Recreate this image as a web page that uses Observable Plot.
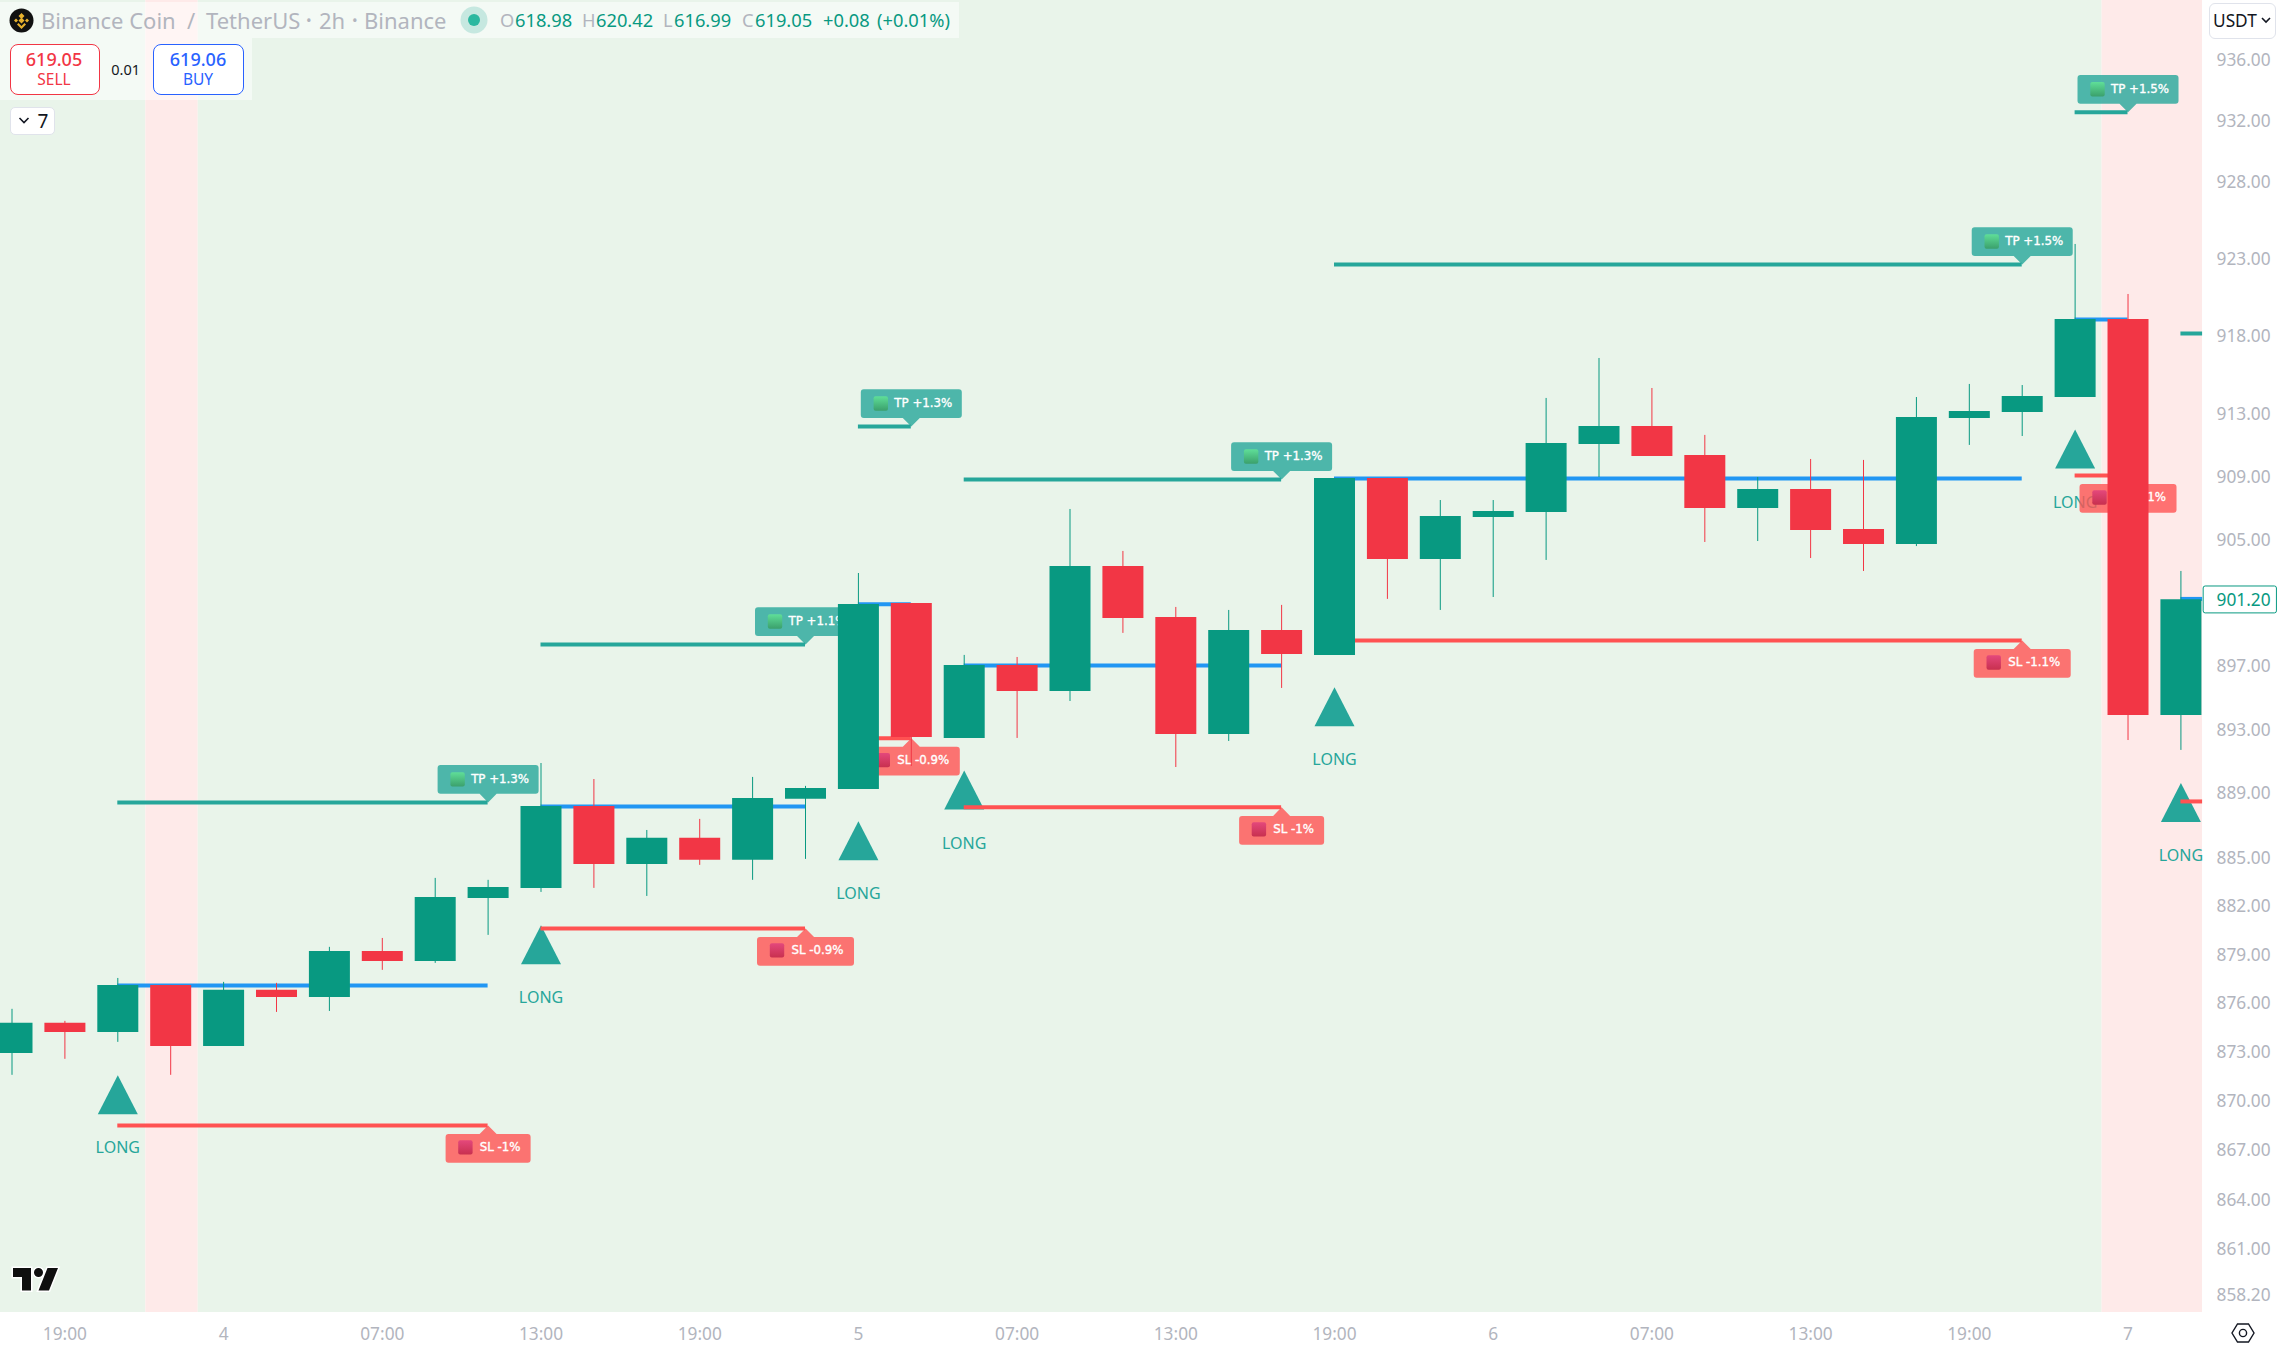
<!DOCTYPE html>
<html><head><meta charset="utf-8">
<script src="https://cdn.jsdelivr.net/npm/d3@7"></script>
<script src="https://cdn.jsdelivr.net/npm/@observablehq/plot@0.6"></script>
<style>
html,body{margin:0;padding:0;background:#fff;overflow:hidden}
#wrap{position:relative;width:2277px;height:1348px;font-family:"Noto Sans",sans-serif}
#wrap svg.plot{display:block}
.o{position:absolute;white-space:nowrap;line-height:1}
.mid{transform:translate(-50%,-50%)}
.lft{transform:translateY(-50%)}
</style></head><body><div id="wrap"></div>
<script>
const opens=[872.94,874.79,874.23,877.12,873.37,876.82,876.38,879.22,878.60,882.50,883.12,888.22,884.61,886.23,884.86,888.66,889.28,900.97,892.47,897.06,895.42,903.32,900.09,892.72,899.27,897.69,908.92,903.76,906.43,906.75,911.09,912.24,910.39,907.00,908.22,905.67,904.71,912.76,913.14,914.10,919.12,893.91];
const highs=[875.65,874.91,877.55,877.12,877.31,877.25,879.47,880.02,883.74,883.62,890.90,889.90,886.72,887.41,890.03,889.47,902.87,900.97,897.69,897.56,906.94,904.27,900.72,900.53,900.85,908.92,908.92,907.51,907.51,914.04,916.61,914.68,911.67,908.98,910.13,910.07,914.10,914.94,914.87,923.98,920.74,903.00];
const lows=[871.60,872.58,873.62,871.60,873.37,875.46,875.52,878.05,878.48,880.21,882.87,883.12,882.62,884.55,883.62,884.92,889.28,890.72,892.47,892.47,894.79,899.08,890.65,892.28,895.61,897.69,901.23,900.53,901.35,903.70,908.98,910.32,904.84,904.90,903.82,903.00,904.58,911.03,911.60,914.10,892.34,891.72];
const closes=[874.79,874.23,877.12,873.37,876.82,876.38,879.22,878.60,882.56,883.18,888.22,884.61,886.23,884.86,888.72,889.34,900.91,892.53,897.06,895.42,903.32,900.02,892.72,899.27,897.75,908.92,903.76,906.49,906.81,911.15,912.24,910.32,907.00,908.22,905.60,904.71,912.82,913.20,914.17,919.12,893.91,901.20];

const priceTicks=[936,932,928,923,918,913,909,905,897,893,889,885,882,879,876,873,870,867,864,861,858.2];
const timeTickBars=[1,4,7,10,13,16,19,22,25,28,31,34,37,40];
const timeTickLabels=["19:00","4","07:00","13:00","19:00","5","07:00","13:00","19:00","6","07:00","13:00","19:00","7"];

const tradeStart=[2,10,16,18,25,39,41];
const tradeEnd=[9,15,17,24,38,40,41.41];
const entryPrice=[877.12,888.22,900.93,897.06,908.92,919.12,901.26];
const tpPrice=[888.47,898.38,912.24,908.85,922.68,932.6,918.22];
const slPrice=[868.54,880.64,892.49,888.16,898.63,909.11,888.53];
const tpText=["TP +1.3%","TP +1.1%","TP +1.3%","TP +1.3%","TP +1.5%","TP +1.5%",null];
const slText=["SL -1%","SL -0.9%","SL -0.9%","SL -1%","SL -1.1%","SL -1.1%",null];

const longBars=[2,10,16,18,25,39,41];
const longPrice=[871.60,880.83,887.29,890.47,895.69,912.05,889.68];

const lastPrice=901.20;
const xDomain=[-0.2174,41.408];
const yDomain=[857.2,939.95];
const sessionBands=[{a:xDomain[0],b:2.53,f:"#E9F4EA"},{a:2.53,b:3.52,f:"#FEEAE9"},{a:3.52,b:39.51,f:"#E9F4EA"},{a:39.51,b:xDomain[1],f:"#FEEAE9"}];

const UP="#089981",DN="#F23645",TEAL="#26A69A",CORAL="#FF5252",BLUE="#2196F3",GRAY="#B2B5BE";
const candles=opens.map((o,i)=>({i,o,h:highs[i],l:lows[i],c:closes[i],col:closes[i]>=o?UP:DN}));
const trades=tradeStart.map((s,k)=>({s,e:tradeEnd[k],en:entryPrice[k],tp:tpPrice[k],sl:slPrice[k],tt:tpText[k],st:slText[k]}));
const longs=longBars.map((i,k)=>({i,p:longPrice[k]}));

const tri={draw(c,s){const r=Math.sqrt(s/Math.PI);c.moveTo(0,0);c.lineTo(r,1.95*r);c.lineTo(-r,1.95*r);c.closePath();}};
function tag(w,up){const hw=w/2,rd=3,p=8.5;return {draw(c){
  const s=up?1:-1,y0=s*8.6,y1=s*37.3;
  c.moveTo(0,0);c.lineTo(p,y0);c.lineTo(hw-rd,y0);
  c.quadraticCurveTo(hw,y0,hw,y0+s*rd);c.lineTo(hw,y1-s*rd);c.quadraticCurveTo(hw,y1,hw-rd,y1);
  c.lineTo(-hw+rd,y1);c.quadraticCurveTo(-hw,y1,-hw,y1-s*rd);c.lineTo(-hw,y0+s*rd);c.quadraticCurveTo(-hw,y0,-hw+rd,y0);
  c.lineTo(-p,y0);c.closePath();}};}
const sq={draw(c){const h=7.2,r=2;c.moveTo(-h+r,-h);c.lineTo(h-r,-h);c.quadraticCurveTo(h,-h,h,-h+r);c.lineTo(h,h-r);c.quadraticCurveTo(h,h,h-r,h);c.lineTo(-h+r,h);c.quadraticCurveTo(-h,h,-h,h-r);c.lineTo(-h,-h+r);c.quadraticCurveTo(-h,-h,-h+r,-h);c.closePath();}};

function tagMarks(rows,yKey,textKey,w,up,sqDx,col,grad){
  const dy=up?22:-23;
  return [
    Plot.dot(rows,{x:"e",y:yKey,symbol:tag(w,up),r:10,fill:col,fillOpacity:0.8,stroke:"none"}),
    Plot.dot(rows,{x:"e",y:yKey,symbol:sq,r:10,dx:sqDx,dy,fill:grad,stroke:"none"}),
    Plot.text(rows,{x:"e",y:yKey,text:textKey,dx:12,dy,fill:"#fff",stroke:"#fff",strokeWidth:0.35,fontSize:11.8,fontFamily:"DejaVu Sans",lineAnchor:"middle"})
  ];
}
const tpRows=trades.filter(d=>d.tt),slRows=trades.filter(d=>d.st);

const chart=Plot.plot({
  width:2277,height:1348,marginLeft:0,marginRight:75,marginTop:0,marginBottom:36,
  style:{background:"#fff",fontFamily:'"Noto Sans",sans-serif',overflow:"visible"},
  x:{type:"linear",domain:xDomain},
  y:{type:"log",domain:yDomain},
  marks:[
    Plot.rect(sessionBands,{x1:"a",x2:"b",fill:"f"}),
    Plot.text(longs,{x:"i",y:"p",text:()=>"LONG",dy:73,fill:TEAL,fontSize:16,lineAnchor:"middle"}),
    ...tagMarks(tpRows,"tp","tt",101,false,-30.5,TEAL,"url(#gTP)"),
    ...tagMarks(slRows.filter(d=>d.st.length>6),"sl","st",97,true,-28.5,CORAL,"url(#gSL)"),
    ...tagMarks(slRows.filter(d=>d.st.length<=6),"sl","st",85,true,-22.7,CORAL,"url(#gSL)"),
    Plot.dot(longs,{x:"i",y:"p",symbol:tri,r:20,fill:TEAL,stroke:"none"}),
    Plot.ruleY(trades,{y:"en",x1:"s",x2:"e",stroke:BLUE,strokeWidth:4}),
    Plot.ruleY(trades,{y:"tp",x1:"s",x2:"e",stroke:TEAL,strokeWidth:4}),
    Plot.ruleY(trades,{y:"sl",x1:"s",x2:"e",stroke:CORAL,strokeWidth:4}),
    Plot.ruleX(candles,{x:"i",y1:"l",y2:"h",stroke:"col",strokeWidth:1}),
    Plot.ruleX(candles,{x:"i",y1:"o",y2:"c",stroke:"col",strokeWidth:41}),
    Plot.rect([lastPrice],{x1:()=>41.43,x2:()=>42.815,y1:d=>d*0.99905,y2:d=>d*1.00094,fill:"#fff",stroke:UP,strokeWidth:1,rx:2}),
    Plot.text([lastPrice],{x:()=>xDomain[1],y:d=>d,text:d=>d.toFixed(2),dx:14,dy:1,textAnchor:"start",fill:UP,fontSize:17.3,lineAnchor:"middle"}),
    Plot.axisY({anchor:"right",ticks:priceTicks,tickSize:0,tickPadding:14,tickFormat:d=>d.toFixed(2),label:null,fill:GRAY,fontSize:17.3}),
    Plot.axisX({anchor:"bottom",ticks:timeTickBars,tickSize:0,tickPadding:15.5,tickFormat:d=>timeTickLabels[timeTickBars.indexOf(d)],label:null,fill:GRAY,fontSize:17.3})
  ]
});
d3.select(chart).append("defs").html(`
<linearGradient id="gTP" x1="0" y1="0" x2="0" y2="1"><stop offset="0" stop-color="#5FDE98"/><stop offset="1" stop-color="#3BA06C"/></linearGradient>
<linearGradient id="gSL" x1="0" y1="0" x2="0" y2="1"><stop offset="0" stop-color="#E4487C"/><stop offset="1" stop-color="#C8304F"/></linearGradient>`);
const wrap=document.getElementById("wrap");
wrap.appendChild(chart);

function box(x,y,w,h,css){const d=document.createElement("div");d.className="o";d.style.cssText=`left:${x}px;top:${y}px;width:${w}px;height:${h}px;box-sizing:border-box;${css||""}`;wrap.appendChild(d);return d;}
function label(t,x,y,size,col,cls,css){const d=document.createElement("div");d.className="o "+(cls||"mid");d.textContent=t;d.style.cssText=`left:${x}px;top:${y}px;font-size:${size}px;color:${col};${css||""}`;wrap.appendChild(d);return d;}
function raw(html){const d=document.createElement("div");d.innerHTML=html;wrap.appendChild(d.firstElementChild);}

box(0,2,959,36,"background:rgba(255,255,255,.5)");
box(0,38,252,62,"background:rgba(255,255,255,.5)");
raw(`<svg class="o" style="left:9px;top:8px" width="25" height="25" viewBox="0 0 25 25"><circle cx="12.5" cy="12.5" r="12" fill="#111"/><path d="M12.5 5l3 3-3 3-3-3zM7 10.5l2 2-2 2-2-2zM18 10.5l2 2-2 2-2-2zM12.5 9.5l3 3-3 3-3-3zM9.5 15l3 3 3-3 1.5 1.5-4.5 4.5L8 16.5z" fill="#E8B22E"/></svg>`);
[["Binance Coin",41],["/",187],["TetherUS",206],["•",306],["2h",319],["•",352],["Binance",364]]
 .forEach(([t,x])=>label(t,x,20,t==="•"?15:22,GRAY,"lft"));
raw(`<svg class="o" style="left:460px;top:6px" width="28" height="28"><circle cx="14" cy="14" r="13.5" fill="#C6E8E0"/><circle cx="14" cy="14" r="6" fill="#2CB8A0"/></svg>`);
[["O",500,GRAY],["618.98",515,UP],["H",582,GRAY],["620.42",596,UP],["L",663,GRAY],["616.99",674,UP],["C",742,GRAY],["619.05",755,UP],["+0.08",823,UP],["(+0.01%)",877,UP]]
 .forEach(([t,x,c])=>label(t,x,20,18.3,c,"lft"));

box(9.5,44,90.5,51,`background:#fff;border:1.4px solid ${DN};border-radius:8px`);
label("619.05",54,59,18,DN,"mid","font-weight:500"); label("SELL",54,80,15.5,DN);
box(153,44,90.5,51,"background:#fff;border:1.4px solid #2962FF;border-radius:8px");
label("619.06",198,59,18,"#2962FF","mid","font-weight:500"); label("BUY",198,80,15.5,"#2962FF");
label("0.01",125.6,69,14.5,"#131722");
box(9.5,107,45,28,"background:#fff;border:1px solid #E0E3EB;border-radius:5px");
raw(`<svg class="o" style="left:18px;top:116px" width="12" height="9"><path d="M1.5 2l4.5 4.5L10.5 2" fill="none" stroke="#131722" stroke-width="1.6"/></svg>`);
label("7",43,121,19,"#131722");

box(2208.5,3,67.5,36,"background:#fff;border:1px solid #E0E3EB;border-radius:6px");
label("USDT",2213,20.5,17.3,"#131722","lft");
raw(`<svg class="o" style="left:2260px;top:16px" width="12" height="9"><path d="M2 2l4 4 4-4" fill="none" stroke="#131722" stroke-width="1.6"/></svg>`);

raw(`<svg class="o" style="left:9.5px;top:1259px" width="54" height="42" viewBox="0 0 36 28"><path d="M14 6H2v6h6v9h6V6zm12 15h-7l6-15h7l-6 15zm-7-9a3 3 0 1 0 0-6 3 3 0 0 0 0 6z" fill="#0F0F0F" stroke="#fff" stroke-width="2" paint-order="stroke"/></svg>`);
raw(`<svg class="o" style="left:2231px;top:1321px" width="24" height="24" viewBox="0 0 24 24"><path d="M6.5 3h11L23 12l-5.5 9h-11L1 12z" fill="none" stroke="#131722" stroke-width="1.4"/><circle cx="12" cy="12" r="3.6" fill="none" stroke="#131722" stroke-width="1.4"/></svg>`);
</script></body></html>
